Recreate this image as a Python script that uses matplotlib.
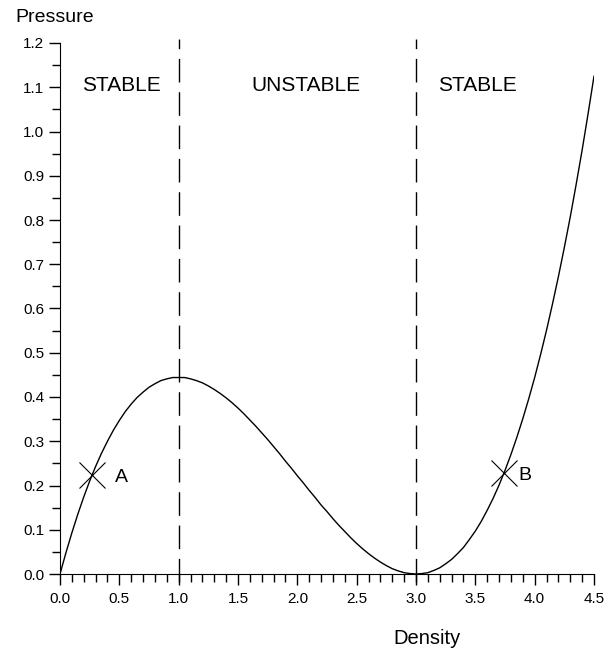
import matplotlib
matplotlib.use("Agg")
import matplotlib.pyplot as plt
from matplotlib.ticker import MultipleLocator, FormatStrFormatter

plt.rcParams['font.family'] = ['Liberation Sans', 'DejaVu Sans']

density = [0.0, 0.05, 0.1, 0.15, 0.2, 0.25, 0.3, 0.35, 0.4, 0.45,
           0.5, 0.55, 0.6, 0.65, 0.7, 0.75, 0.8, 0.85, 0.9, 0.95,
           1.0, 1.05, 1.1, 1.15, 1.2, 1.25, 1.3, 1.35, 1.4, 1.45,
           1.5, 1.55, 1.6, 1.65, 1.7, 1.75, 1.8, 1.85, 1.9, 1.95,
           2.0, 2.05, 2.1, 2.15, 2.2, 2.25, 2.3, 2.35, 2.4, 2.45,
           2.5, 2.55, 2.6, 2.65, 2.7, 2.75, 2.8, 2.85, 2.9, 2.95,
           3.0, 3.05, 3.1, 3.15, 3.2, 3.25, 3.3, 3.35, 3.4, 3.45,
           3.5, 3.55, 3.6, 3.65, 3.7, 3.75, 3.8, 3.85, 3.9, 3.95,
           4.0, 4.05, 4.1, 4.15, 4.2, 4.25, 4.3, 4.35, 4.4, 4.45, 4.5]
pressure = [0.0, 0.048, 0.093, 0.135, 0.174, 0.210, 0.243, 0.273, 0.300, 0.325,
            0.347, 0.367, 0.384, 0.399, 0.411, 0.422, 0.430, 0.437, 0.441, 0.444,
            0.444, 0.444, 0.441, 0.437, 0.432, 0.425, 0.417, 0.408, 0.398, 0.387,
            0.375, 0.362, 0.348, 0.334, 0.319, 0.304, 0.288, 0.272, 0.255, 0.239,
            0.222, 0.206, 0.189, 0.173, 0.156, 0.141, 0.125, 0.110, 0.096, 0.082,
            0.069, 0.057, 0.046, 0.036, 0.027, 0.019, 0.012, 0.007, 0.003, 0.001,
            0.0, 0.001, 0.003, 0.008, 0.014, 0.023, 0.033, 0.046, 0.060, 0.078,
            0.097, 0.119, 0.144, 0.171, 0.201, 0.234, 0.270, 0.309, 0.351, 0.396,
            0.444, 0.496, 0.551, 0.610, 0.672, 0.738, 0.807, 0.881, 0.958, 1.040, 1.125]

boundaries = [1.0, 3.0]
points_x = [0.27, 3.74]
points_y = [0.224, 0.228]
point_labels = ['A', 'B']
label_dx = [0.19, 0.12]
regions = ['STABLE', 'UNSTABLE', 'STABLE']
region_x = [0.52, 2.07, 3.52]

fig = plt.figure(figsize=(6.16, 6.52), dpi=100)
ax = fig.add_axes([60/616, 78/652, 534/616, 531/652])

ax.plot(density, pressure, color='black', lw=1.0, solid_joinstyle='round')
for b in boundaries:
    ax.plot([b, b], [-0.018, 1.21], color='black', lw=1.0,
            linestyle=(0, (17, 7)), clip_on=False)
ax.plot(points_x, points_y, linestyle='none', marker='x', markersize=19,
        markeredgewidth=0.8, color='black')
for px, py, dx, lab in zip(points_x, points_y, label_dx, point_labels):
    ax.text(px + dx, py - 0.005, lab, fontsize=14, va='center', ha='left')
for rx, lab in zip(region_x, regions):
    ax.text(rx, 1.103, lab, fontsize=15, ha='center', va='center')

ax.set_xlim(0, 4.5)
ax.set_ylim(0, 1.2)
ax.spines['top'].set_visible(False)
ax.spines['right'].set_visible(False)
ax.xaxis.set_major_locator(MultipleLocator(0.5))
ax.xaxis.set_minor_locator(MultipleLocator(0.1))
ax.yaxis.set_major_locator(MultipleLocator(0.1))
ax.yaxis.set_minor_locator(MultipleLocator(0.05))
ax.xaxis.set_major_formatter(FormatStrFormatter('%.1f'))
ax.yaxis.set_major_formatter(FormatStrFormatter('%.1f'))
ax.tick_params(axis='both', which='major', direction='out', length=8, width=1, labelsize=11)
ax.tick_params(axis='both', which='minor', direction='out', length=5.5, width=1)
ax.tick_params(axis='x', which='major', pad=5)

fig.text(15/616, 635/652, 'Pressure', fontsize=14, ha='left', va='center')
fig.text(427/616, 13/652, 'Density', fontsize=14.5, ha='center', va='center')

fig.savefig('out.png', dpi=100)
